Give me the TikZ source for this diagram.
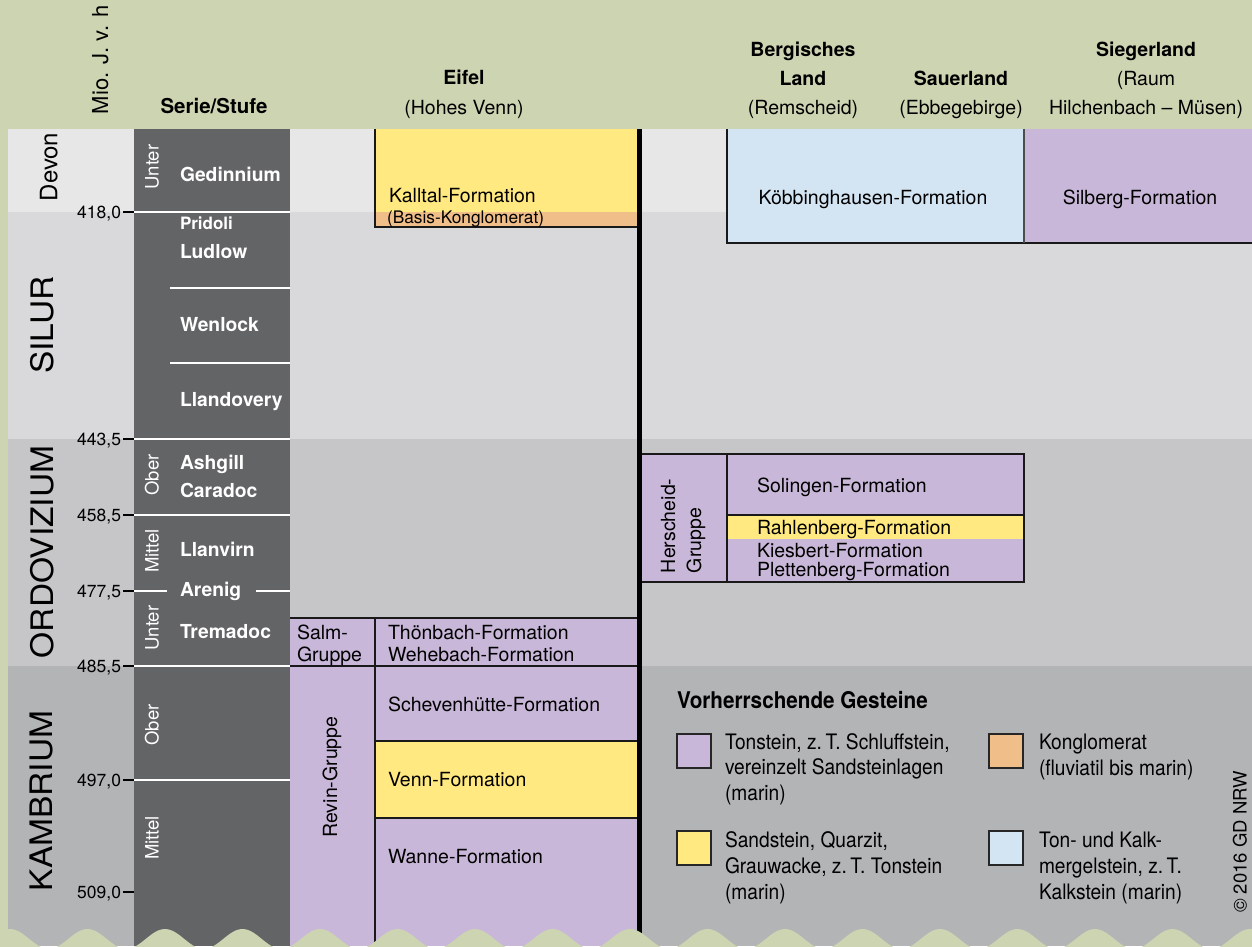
\documentclass[tikz,border=0pt]{standalone}
\usepackage{fontspec}
\usepackage{graphicx}
\setmainfont{TeX Gyre Heros}
\newfontfamily\condf[FakeStretch=0.9]{TeX Gyre Heros}
\definecolor{hdr}{HTML}{CDD4B2}
\definecolor{bdevon}{HTML}{E7E7E7}
\definecolor{bsilur}{HTML}{D9D9DB}
\definecolor{bordo}{HTML}{C6C6C8}
\definecolor{bkamb}{HTML}{B3B4B6}
\definecolor{darkcol}{HTML}{636466}
\definecolor{ylw}{HTML}{FFE980}
\definecolor{org}{HTML}{F0BE88}
\definecolor{prp}{HTML}{C8B7D8}
\definecolor{lblue}{HTML}{D3E4F3}
\begin{document}
\begin{tikzpicture}[x=1pt,y=-1pt,
  every node/.style={inner sep=0pt,outer sep=0pt},
  txt/.style={font=\fontsize{19.5}{23}\selectfont,text height=15.6pt,text depth=1.6pt},
  bld/.style={font=\bfseries\fontsize{19.5}{23}\selectfont,text height=15.6pt,text depth=1.6pt},
  stage/.style={font=\bfseries\fontsize{19.3}{23}\selectfont,text=white,anchor=west,text height=15.4pt,text depth=1.5pt},
  sub/.style={font=\fontsize{18.5}{22}\selectfont,text=white,rotate=90,text height=14.8pt,text depth=1.5pt},
  tick/.style={font=\fontsize{17.5}{21}\selectfont,anchor=east,text height=14pt,text depth=1.4pt},
  period/.style={font=\fontsize{31}{36}\selectfont,rotate=90,text height=24.8pt,text depth=2.5pt},
  leg/.style={font=\condf\fontsize{21.3}{25}\selectfont,anchor=west,text height=17pt,text depth=1.7pt},
  legbox/.style={draw=black!85,line width=1.3pt},
  border/.style={draw=black!90,line width=1.4pt},
  wline/.style={draw=white,line width=1.8pt},
  tk/.style={draw=black,line width=1.4pt}]
\useasboundingbox (0,0) rectangle (1252,946);
\clip (0,0) rectangle (1252,946);
% backgrounds
\fill[hdr] (0,0) rectangle (1252,946);
\fill[bdevon] (8,129) rectangle (1252,212);
\fill[bsilur] (8,212) rectangle (1252,439);
\fill[bordo] (8,439) rectangle (1252,666);
\fill[bkamb] (8,666) rectangle (1252,946);
% dark column
\fill[darkcol] (134,129) rectangle (290,946);
\draw[wline] (134,212) -- (290,212);
\draw[wline] (170,288) -- (290,288);
\draw[wline] (170,363) -- (290,363);
\draw[wline] (134,439) -- (290,439);
\draw[wline] (134,515) -- (290,515);
\draw[wline] (134,591) -- (167,591);
\draw[wline] (256,591) -- (290,591);
\draw[wline] (134,666) -- (290,666);
\draw[wline] (134,780) -- (290,780);
% ticks
\foreach \yy in {212,439,515,591,666,780,892} \draw[tk] (123,\yy) -- (134,\yy);
% Eifel column
\fill[ylw] (375,129) rectangle (637,212);
\fill[org] (375,212) rectangle (637,227);
\draw[border] (375,129) -- (375,227) -- (637,227);
\fill[prp] (290,618) rectangle (637,946);
\fill[ylw] (375,741) rectangle (637,818);
\draw[border] (290,618) -- (637,618);
\draw[border] (290,666) -- (637,666);
\draw[border] (375,618) -- (375,946);
\draw[border] (375,741) -- (637,741);
\draw[border] (375,818) -- (637,818);
% right side
\fill[lblue] (727,129) rectangle (1024,243);
\fill[prp] (1024,129) rectangle (1252,243);
\draw[border] (727,129) -- (727,243) -- (1252,243);
\draw[draw=black!70,line width=1.2pt] (1024,129) -- (1024,243);
\fill[prp] (640,454) rectangle (1024,582);
\fill[ylw] (727,515) rectangle (1024,539);
\draw[border] (640,454) rectangle (1024,582);
\draw[border] (727,454) -- (727,582);
\draw[border] (727,515) -- (1024,515);
% thick separator
\draw[line width=5pt,black] (639.5,129) -- (639.5,946);
% legend boxes
\filldraw[legbox,fill=prp] (677,734) rectangle (711,768);
\filldraw[legbox,fill=org] (989,734) rectangle (1023,768);
\filldraw[legbox,fill=ylw] (677,831) rectangle (711,865);
\filldraw[legbox,fill=lblue] (989,831) rectangle (1023,865);
% bottom wave
\fill[hdr] plot[domain=0:1252,samples=500] (\x,{939-10*cos(4.64516*(\x-10))}) -- (1252,960) -- (0,960) -- cycle;
% header texts
\node[font=\fontsize{22}{26}\selectfont,rotate=90,anchor=west,text height=16pt,text depth=4pt] (mio) at (102,114) {Mio. J. v. h};
\node[bld,font=\bfseries\fontsize{20.5}{24}\selectfont] (serie) at (214,106) {Serie/Stufe};
\node[bld] (eifel) at (464,77) {Eifel};
\node[txt] (hohes) at (464,107) {(Hohes Venn)};
\node[bld] (berg) at (803,49) {Bergisches};
\node[bld] (land) at (803,78) {Land};
\node[txt] (rems) at (803,107) {(Remscheid)};
\node[bld] (sauer) at (961,78) {Sauerland};
\node[txt] (ebbe) at (961,107) {(Ebbegebirge)};
\node[bld] (sieg) at (1146,49) {Siegerland};
\node[txt] (raum) at (1146,78) {(Raum};
\node[txt] (hilch) at (1146,107) {Hilchenbach – Müsen)};
% periods
\node[font=\fontsize{24}{28}\selectfont,rotate=90,text height=17.3pt,text depth=0.5pt] (devon) at (49,167) {Devon};
\node[period] (silur) at (42,325) {\scalebox{1.08}[1]{SILUR}};
\node[period] (ordo) at (42,552) {\scalebox{1.08}[1]{ORDOVIZIUM}};
\node[period] (kamb) at (41,801) {\scalebox{1.08}[1]{KAMBRIUM}};
% series
\node[sub] (unter1) at (152,167) {Unter};
\node[sub] (ober1) at (152,475) {Ober};
\node[sub] (mittel1) at (152,551) {Mittel};
\node[sub] (unter2) at (152,628) {Unter};
\node[sub] (ober2) at (152,725) {Ober};
\node[sub] (mittel2) at (152,838) {Mittel};
% stages
\node[stage] (ged) at (180,175) {Gedinnium};
\node[stage,font=\bfseries\fontsize{17}{20}\selectfont,text height=13.6pt] (prid) at (180,223) {Pridoli};
\node[stage] (lud) at (180,252) {Ludlow};
\node[stage] (wen) at (180,325) {Wenlock};
\node[stage] (lla) at (180,400) {Llandovery};
\node[stage] (ash) at (180,463) {Ashgill};
\node[stage] (car) at (180,491) {Caradoc};
\node[stage] (llv) at (180,550) {Llanvirn};
\node[stage] (are) at (180,590) {Arenig};
\node[stage] (tre) at (180,632) {Tremadoc};
% tick labels
\node[tick] (t1) at (121,212) {418,0};
\node[tick] (t2) at (121,439) {443,5};
\node[tick] (t3) at (121,515) {458,5};
\node[tick] (t4) at (121,591) {477,5};
\node[tick] (t5) at (121,666) {485,5};
\node[tick] (t6) at (121,780) {497,0};
\node[tick] (t7) at (121,892) {509,0};
% formations
\node[txt,anchor=west] (kall) at (389,195) {Kalltal-Formation};
\node[txt,anchor=west,font=\fontsize{17.3}{20}\selectfont,text height=13.8pt,text depth=1.4pt] (basis) at (387,217) {(Basis-Konglomerat)};
\node[txt] (koeb) at (873,197) {Köbbinghausen-Formation};
\node[txt] (silb) at (1140,197) {Silberg-Formation};
\node[txt,rotate=90,anchor=west] (hers1) at (668,573) {Herscheid-};
\node[txt,rotate=90,anchor=west] (hers2) at (694,573) {Gruppe};
\node[txt,anchor=west] (sol) at (757,485) {Solingen-Formation};
\node[txt,anchor=west] (rahl) at (757,527) {Rahlenberg-Formation};
\node[txt,anchor=west] (kies) at (757,550) {Kiesbert-Formation};
\node[txt,anchor=west] (plet) at (757,569) {Plettenberg-Formation};
\node[txt,anchor=west] (salm1) at (297,632) {Salm-};
\node[txt,anchor=west] (salm2) at (297,654) {Gruppe};
\node[txt,anchor=west] (thoen) at (388,632) {Thönbach-Formation};
\node[txt,anchor=west] (wehe) at (388,654) {Wehebach-Formation};
\node[txt,anchor=west] (schev) at (388,704) {Schevenhütte-Formation};
\node[txt,anchor=west] (venn) at (388,779) {Venn-Formation};
\node[txt,anchor=west] (wanne) at (388,856) {Wanne-Formation};
\node[txt,rotate=90] (revin) at (330,777) {Revin-Gruppe};
% legend
\node[leg,font=\condf\bfseries\fontsize{23}{27}\selectfont,text height=18.4pt] (legt) at (677,700) {Vorherrschende Gesteine};
\node[leg] (l1a) at (725,742) {Tonstein, z.\,T. Schluffstein,};
\node[leg] (l1b) at (725,767) {vereinzelt Sandsteinlagen};
\node[leg] (l1c) at (725,793) {(marin)};
\node[leg] (l2a) at (1039,742) {Konglomerat};
\node[leg] (l2b) at (1039,768) {(fluviatil bis marin)};
\node[leg] (l3a) at (725,840) {Sandstein, Quarzit,};
\node[leg] (l3b) at (725,866) {Grauwacke, z.\,T. Tonstein};
\node[leg] (l3c) at (725,892) {(marin)};
\node[leg] (l4a) at (1039,840) {Ton- und Kalk-};
\node[leg] (l4b) at (1039,866) {mergelstein, z.\,T.};
\node[leg] (l4c) at (1039,892) {Kalkstein (marin)};
\node[font=\fontsize{18.5}{22}\selectfont,rotate=90,text height=14.8pt,text depth=1.5pt] (copy) at (1240,842) {© 2016 GD NRW};
\end{tikzpicture}
\end{document}
